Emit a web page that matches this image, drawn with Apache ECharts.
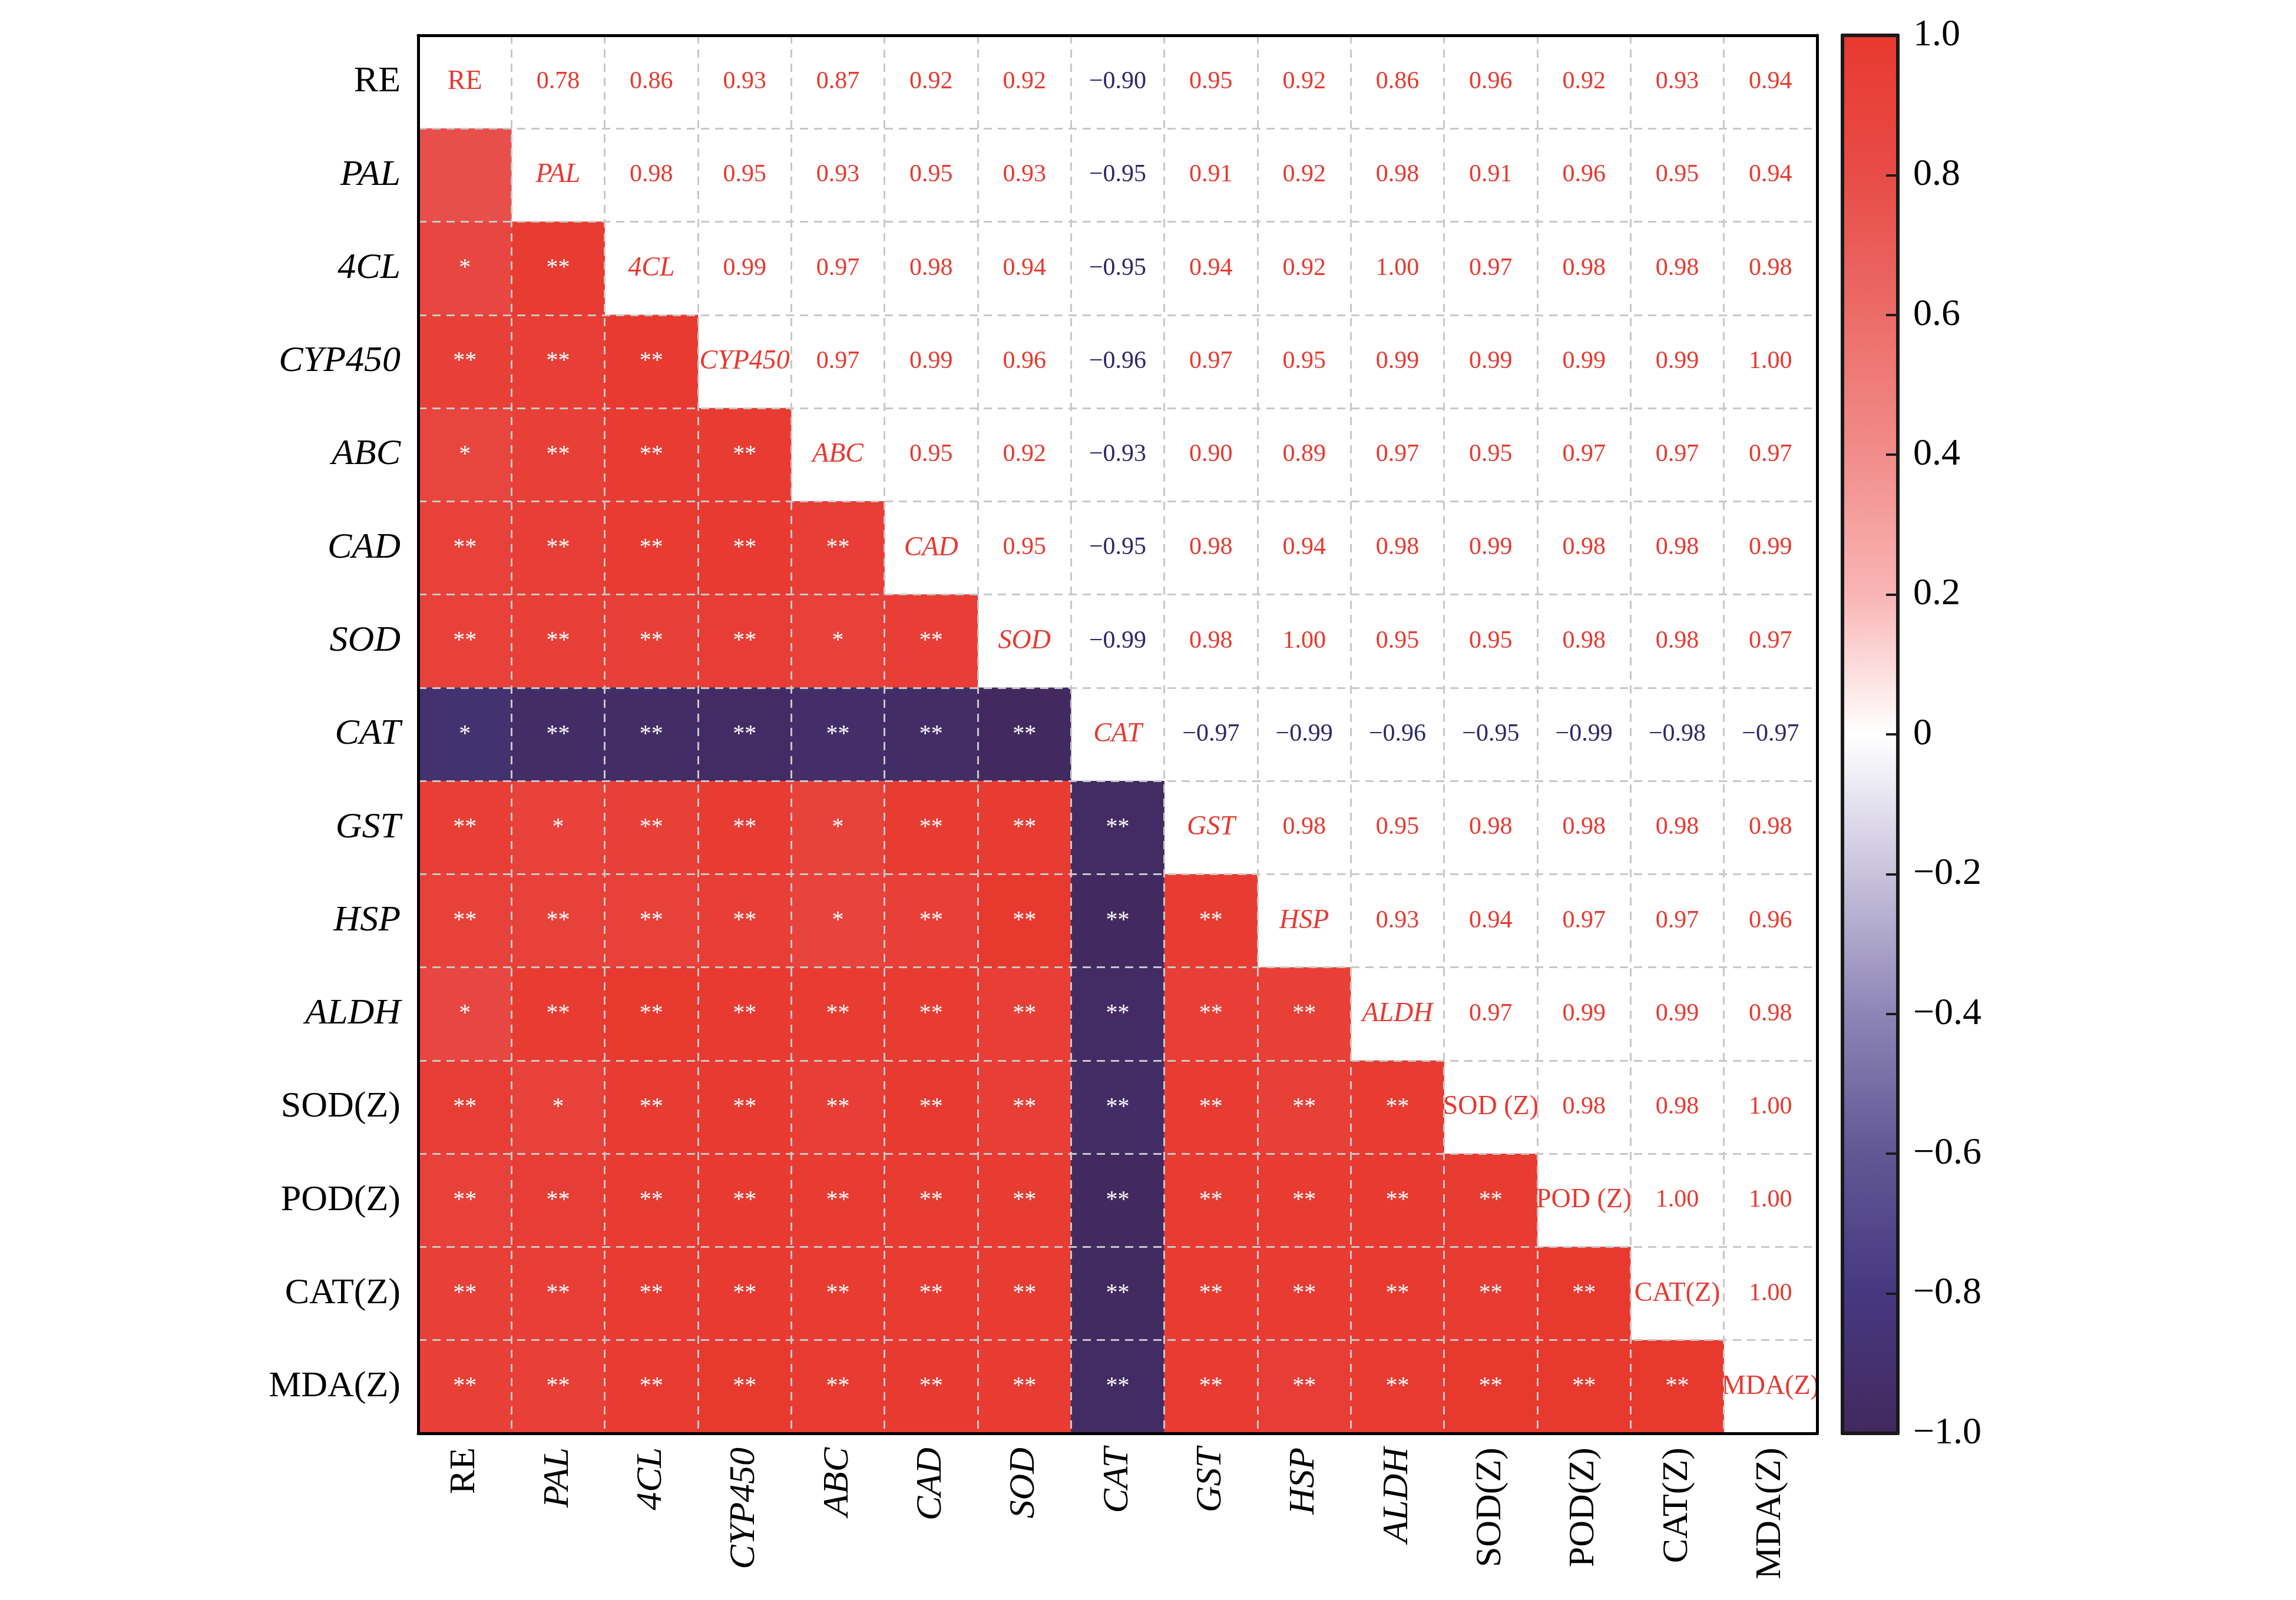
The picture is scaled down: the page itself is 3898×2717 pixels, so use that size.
<!DOCTYPE html>
<html>
<head>
<meta charset="utf-8">
<script src="https://cdn.jsdelivr.net/npm/echarts@6/dist/echarts.min.js"></script>
<style>html,body{margin:0;background:#fff}#main{width:3898px;height:2717px}</style>
</head>
<body>
<div id="main"></div>
<script>
var names = ['RE','PAL','4CL','CYP450','ABC','CAD','SOD','CAT','GST','HSP','ALDH','SOD(Z)','POD(Z)','CAT(Z)','MDA(Z)'];
var diagLabels = ['RE','PAL','4CL','CYP450','ABC','CAD','SOD','CAT','GST','HSP','ALDH','SOD (Z)','POD (Z)','CAT(Z)','MDA(Z)'];
var italicNames = ['PAL','4CL','CYP450','ABC','CAD','SOD','CAT','GST','HSP','ALDH'];
// upper triangle, row i, columns i+1..14
var upper = [
  [0.78,0.86,0.93,0.87,0.92,0.92,-0.90,0.95,0.92,0.86,0.96,0.92,0.93,0.94],
  [0.98,0.95,0.93,0.95,0.93,-0.95,0.91,0.92,0.98,0.91,0.96,0.95,0.94],
  [0.99,0.97,0.98,0.94,-0.95,0.94,0.92,1.00,0.97,0.98,0.98,0.98],
  [0.97,0.99,0.96,-0.96,0.97,0.95,0.99,0.99,0.99,0.99,1.00],
  [0.95,0.92,-0.93,0.90,0.89,0.97,0.95,0.97,0.97,0.97],
  [0.95,-0.95,0.98,0.94,0.98,0.99,0.98,0.98,0.99],
  [-0.99,0.98,1.00,0.95,0.95,0.98,0.98,0.97],
  [-0.97,-0.99,-0.96,-0.95,-0.99,-0.98,-0.97],
  [0.98,0.95,0.98,0.98,0.98,0.98],
  [0.93,0.94,0.97,0.97,0.96],
  [0.97,0.99,0.99,0.98],
  [0.98,0.98,1.00],
  [1.00,1.00],
  [1.00],
  []
];
// significance stars, lower triangle, row i, columns 0..i-1
var stars = [
  [],
  [''],
  ['*','**'],
  ['**','**','**'],
  ['*','**','**','**'],
  ['**','**','**','**','**'],
  ['**','**','**','**','*','**'],
  ['*','**','**','**','**','**','**'],
  ['**','*','**','**','*','**','**','**'],
  ['**','**','**','**','*','**','**','**','**'],
  ['*','**','**','**','**','**','**','**','**','**'],
  ['**','*','**','**','**','**','**','**','**','**','**'],
  ['**','**','**','**','**','**','**','**','**','**','**','**'],
  ['**','**','**','**','**','**','**','**','**','**','**','**','**'],
  ['**','**','**','**','**','**','**','**','**','**','**','**','**','**']
];

function r(i, j) { return i < j ? upper[i][j - i - 1] : upper[j][i - j - 1]; }

var FONT = 'Liberation Serif';
var lowerData = [], upperData = [];
for (var i = 0; i < names.length; i++) {
  for (var j = 0; j < names.length; j++) {
    if (j < i) {
      lowerData.push({value: [j, i, r(i, j)], label: {formatter: stars[i][j]}});
    } else if (j > i) {
      var v = r(i, j);
      upperData.push({value: [j, i, v], label: {formatter: (v < 0 ? '\u2212' : '') + Math.abs(v).toFixed(2), color: v < 0 ? '#2e2868' : '#e8392f'}});
    } else {
      upperData.push({value: [j, i, 0], label: {formatter: diagLabels[i], fontStyle: italicNames.indexOf(names[i]) >= 0 ? 'italic' : 'normal', fontSize: 46}});
    }
  }
}

function catLabel(v) { return italicNames.indexOf(v) >= 0 ? '{i|' + v + '}' : '{n|' + v + '}'; }
var rich = {i: {fontStyle: 'italic', fontFamily: FONT, fontSize: 62, color: '#000'}, n: {fontFamily: FONT, fontSize: 62, color: '#000'}};
var frameLine = {onZero: false, lineStyle: {color: '#000', width: 5}};
var barLine = {onZero: false, lineStyle: {color: '#1a1a1a', width: 6}};

var chart = echarts.init(document.getElementById('main'));
chart.setOption({
  backgroundColor: '#fff',
  textStyle: {fontFamily: FONT},
  grid: [
    {left: 710, top: 60, width: 2375, height: 2374},
    {left: 710, top: 60, width: 2375, height: 2374, z: 10},
    {left: 3128, top: 60, width: 94, height: 2374, z: 10}
  ],
  xAxis: [
    {type: 'category', data: names, gridIndex: 0, position: 'bottom',
      axisLine: {show: false}, axisTick: {show: false},
      axisLabel: {rotate: 90, margin: 24, formatter: catLabel, rich: rich}},
    {type: 'value', gridIndex: 1, min: 0, max: 15, interval: 1, position: 'bottom', z: 10,
      axisLine: frameLine, axisTick: {show: false}, axisLabel: {show: false},
      splitLine: {show: true, lineStyle: {type: [14, 10], color: '#c8c8c8', width: 3}}},
    {type: 'value', gridIndex: 1, min: 0, max: 15, position: 'top', z: 10,
      axisLine: frameLine, axisTick: {show: false}, axisLabel: {show: false}, splitLine: {show: false}},
    {type: 'value', gridIndex: 2, min: 0, max: 1, position: 'bottom', z: 10,
      axisLine: barLine, axisTick: {show: false}, axisLabel: {show: false}, splitLine: {show: false}},
    {type: 'value', gridIndex: 2, min: 0, max: 1, position: 'top', z: 10,
      axisLine: barLine, axisTick: {show: false}, axisLabel: {show: false}, splitLine: {show: false}}
  ],
  yAxis: [
    {type: 'category', data: names, gridIndex: 0, inverse: true,
      axisLine: {show: false}, axisTick: {show: false},
      axisLabel: {margin: 30, formatter: catLabel, rich: rich}},
    {type: 'value', gridIndex: 1, min: 0, max: 15, interval: 1, position: 'left', z: 10,
      axisLine: frameLine, axisTick: {show: false}, axisLabel: {show: false},
      splitLine: {show: true, lineStyle: {type: [14, 10], color: '#c8c8c8', width: 3}}},
    {type: 'value', gridIndex: 1, min: 0, max: 15, position: 'right', z: 10,
      axisLine: frameLine, axisTick: {show: false}, axisLabel: {show: false}, splitLine: {show: false}},
    {type: 'value', gridIndex: 2, min: -1, max: 1, interval: 0.2, position: 'right', z: 10,
      axisLine: barLine,
      axisTick: {inside: true, length: 20, lineStyle: {color: '#1a1a1a', width: 4}},
      axisLabel: {margin: 26, fontSize: 64, fontFamily: FONT, color: '#000',
        formatter: function (v) { if (Math.abs(v) < 1e-9) return '0'; return (v < 0 ? '\u2212' : '') + Math.abs(v).toFixed(1); }},
      splitLine: {show: false}},
    {type: 'value', gridIndex: 2, min: -1, max: 1, position: 'left', z: 10,
      axisLine: barLine, axisTick: {show: false}, axisLabel: {show: false}, splitLine: {show: false}}
  ],
  visualMap: {
    type: 'continuous', min: -1, max: 1, seriesIndex: 0, calculable: false,
    left: 3128, top: 60, itemWidth: 94, itemHeight: 2374, padding: 0, text: ['', ''], showLabel: false,
    inRange: {color: ['#42295e','#463880','#615794','#8d85b6','#c8c2dc','#ffffff','#f9b5b5','#f18d8a','#ec6c68','#e84c47','#e8392f']}
  },
  series: [
    {type: 'heatmap', xAxisIndex: 0, yAxisIndex: 0, data: lowerData,
      label: {show: true, color: '#fff', fontSize: 40, fontFamily: FONT}},
    {type: 'heatmap', xAxisIndex: 0, yAxisIndex: 0, data: upperData,
      itemStyle: {color: 'rgba(255,255,255,0)'},
      label: {show: true, color: '#e8392f', fontSize: 42, fontFamily: FONT}}
  ]
});
</script>
</body>
</html>
